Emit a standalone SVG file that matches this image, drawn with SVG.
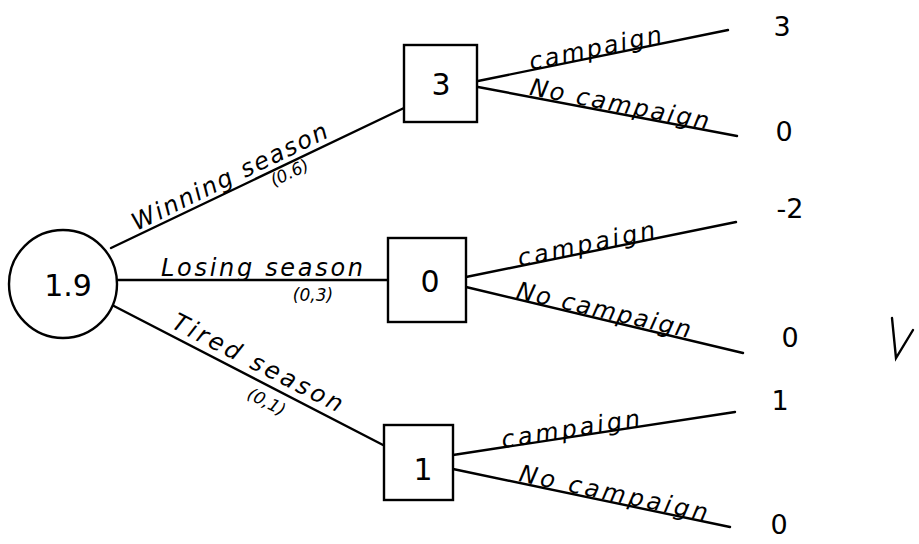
<svg xmlns="http://www.w3.org/2000/svg" width="919" height="544" viewBox="0 0 919 544">
<style>
.ln{stroke:#000;stroke-width:2.4;fill:none;stroke-linecap:round}
.nd{stroke:#000;stroke-width:2.4;fill:#fff}
.lb{font-family:"DejaVu Sans","Liberation Sans",sans-serif;font-style:italic;font-size:24px;fill:#000;text-anchor:middle}
.pr{font-family:"DejaVu Sans","Liberation Sans",sans-serif;font-style:italic;font-size:17px;fill:#000;text-anchor:middle}
.v{font-family:"DejaVu Sans","Liberation Sans",sans-serif;font-size:30px;fill:#000;text-anchor:middle}
.o{font-family:"DejaVu Sans","Liberation Sans",sans-serif;font-size:27px;fill:#000;text-anchor:middle}
</style>
<rect width="919" height="544" fill="#fff"/>
<g id="connectors">
<line class="ln" x1="111" y1="248" x2="404" y2="108"/>
<line class="ln" x1="117" y1="280" x2="388" y2="280"/>
<line class="ln" x1="112" y1="305" x2="385" y2="446"/>
<line class="ln" x1="478" y1="81" x2="728" y2="30"/>
<line class="ln" x1="478" y1="87" x2="737" y2="136"/>
<line class="ln" x1="466" y1="277" x2="736" y2="222"/>
<line class="ln" x1="466" y1="287" x2="743" y2="353"/>
<line class="ln" x1="453" y1="455" x2="735" y2="412"/>
<line class="ln" x1="453" y1="469" x2="730" y2="527"/>
<text class="lb" transform="translate(233,184) rotate(-26)" textLength="215" lengthAdjust="spacing">Winning season</text>
<text class="pr" transform="translate(292,178) rotate(-26)">(0.6)</text>
<text class="lb" x="262" y="276" textLength="202" lengthAdjust="spacing">Losing season</text>
<text class="pr" x="313" y="301">(0,3)</text>
<text class="lb" transform="translate(254,370) rotate(27)" textLength="188" lengthAdjust="spacing">Tired season</text>
<text class="pr" transform="translate(264,407) rotate(27)">(0,1)</text>
<text class="lb" transform="translate(597,56) rotate(-12)" textLength="135" lengthAdjust="spacing">campaign</text>
<text class="lb" transform="translate(618,112) rotate(11)" textLength="182" lengthAdjust="spacing">No campaign</text>
<text class="lb" transform="translate(588,252) rotate(-12)" textLength="140" lengthAdjust="spacing">campaign</text>
<text class="lb" transform="translate(602,318) rotate(13)" textLength="178" lengthAdjust="spacing">No campaign</text>
<text class="lb" transform="translate(572,437) rotate(-9)" textLength="140" lengthAdjust="spacing">campaign</text>
<text class="lb" transform="translate(612,501) rotate(12)" textLength="192" lengthAdjust="spacing">No campaign</text>
</g>
<g id="chance">
<circle class="nd" cx="63" cy="284" r="54"/>
<text class="v" x="68" y="296">1.9</text>
</g>
<g id="decision-win">
<rect class="nd" x="404" y="45" width="73" height="77"/>
<text class="v" x="441" y="95">3</text>
</g>
<g id="decision-lose">
<rect class="nd" x="388" y="238" width="78" height="84"/>
<text class="v" x="430" y="292">0</text>
</g>
<g id="decision-tired">
<rect class="nd" x="384" y="425" width="69" height="75"/>
<text class="v" x="423" y="480">1</text>
</g>
<g id="outcomes">
<text class="o" x="782" y="36">3</text>
<text class="o" x="784" y="141">0</text>
<text class="o" x="790" y="218">-2</text>
<text class="o" x="790" y="347">0</text>
<text class="o" x="780" y="410">1</text>
<text class="o" x="779" y="534">0</text>
</g>
<path class="ln" d="M892 318 L896 358 L913 330"/>
</svg>
